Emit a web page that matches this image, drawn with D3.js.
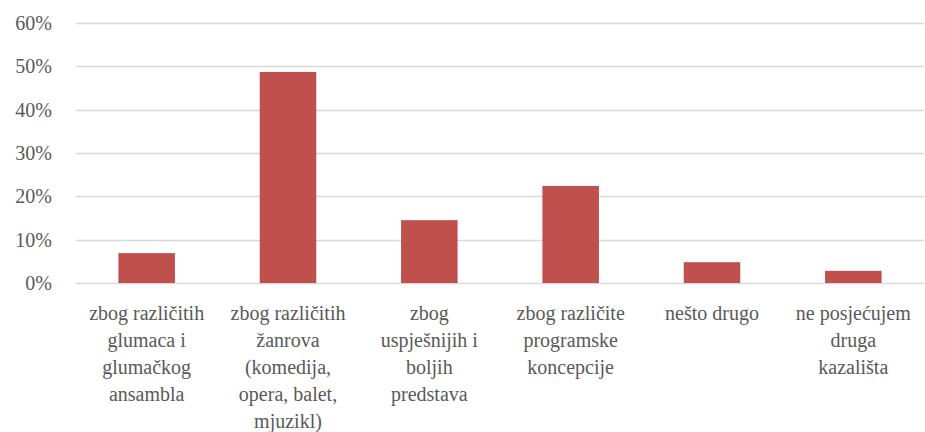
<!DOCTYPE html>
<html>
<head>
<meta charset="utf-8">
<script src="https://cdn.jsdelivr.net/npm/d3@7"></script>
</head>
<body style="margin:0">
<div class="chart"></div>
<script>
// categories, split where the original wraps them
const categories = [
  ['zbog različitih', 'glumaca i', 'glumačkog', 'ansambla'],
  ['zbog različitih', 'žanrova', '(komedija,', 'opera, balet,', 'mjuzikl)'],
  ['zbog', 'uspješnijih i', 'boljih', 'predstava'],
  ['zbog različite', 'programske', 'koncepcije'],
  ['nešto drugo'],
  ['ne posjećujem', 'druga', 'kazališta']
];
const values = [0.069, 0.487, 0.145, 0.224, 0.048, 0.028];
const yTicks = [0, 0.1, 0.2, 0.3, 0.4, 0.5, 0.6];

const width = 925;
const height = 432;
const margin = { top: 23, right: 1, bottom: 149, left: 76 };

const svg = d3.select('.chart').append('svg')
  .attr('width', width)
  .attr('height', height);

const x = d3.scaleBand()
  .domain(d3.range(categories.length))
  .range([margin.left, width - margin.right])
  .paddingInner(0.6)
  .paddingOuter(0.3);

const y = d3.scaleLinear()
  .domain([0, 0.6])
  .range([height - margin.bottom, margin.top]);

// gridlines
svg.append('g')
  .selectAll('line')
  .data(yTicks)
  .enter()
  .append('line')
  .attr('x1', margin.left)
  .attr('x2', width - margin.right)
  .attr('y1', d => Math.round(y(d)) + 0.5)
  .attr('y2', d => Math.round(y(d)) + 0.5)
  .attr('stroke', '#d9d9d9')
  .attr('stroke-width', 1.3);

// bars
svg.append('g')
  .selectAll('rect')
  .data(values)
  .enter()
  .append('rect')
  .attr('x', (d, i) => x(i))
  .attr('y', d => y(d))
  .attr('width', x.bandwidth())
  .attr('height', d => y(0) - y(d))
  .attr('fill', '#c0504d');

// y labels
svg.append('g')
  .selectAll('text')
  .data(yTicks)
  .enter()
  .append('text')
  .attr('x', 52)
  .attr('y', d => y(d) + 7)
  .attr('text-anchor', 'end')
  .attr('font-size', 20)
  .attr('fill', '#595959')
  .style('font-family', '"Liberation Serif"')
  .text(d3.format('.0%'));

// category labels, one text per line
const lines = [];
categories.forEach((c, i) => c.forEach((line, j) => lines.push({ line, i, j })));

svg.append('g')
  .selectAll('text')
  .data(lines)
  .enter()
  .append('text')
  .attr('x', d => x(d.i) + x.bandwidth() / 2)
  .attr('y', d => 320 + d.j * 27)
  .attr('text-anchor', 'middle')
  .attr('font-size', 20)
  .attr('fill', '#595959')
  .style('font-family', '"Liberation Serif"')
  .text(d => d.line);
</script>
</body>
</html>
